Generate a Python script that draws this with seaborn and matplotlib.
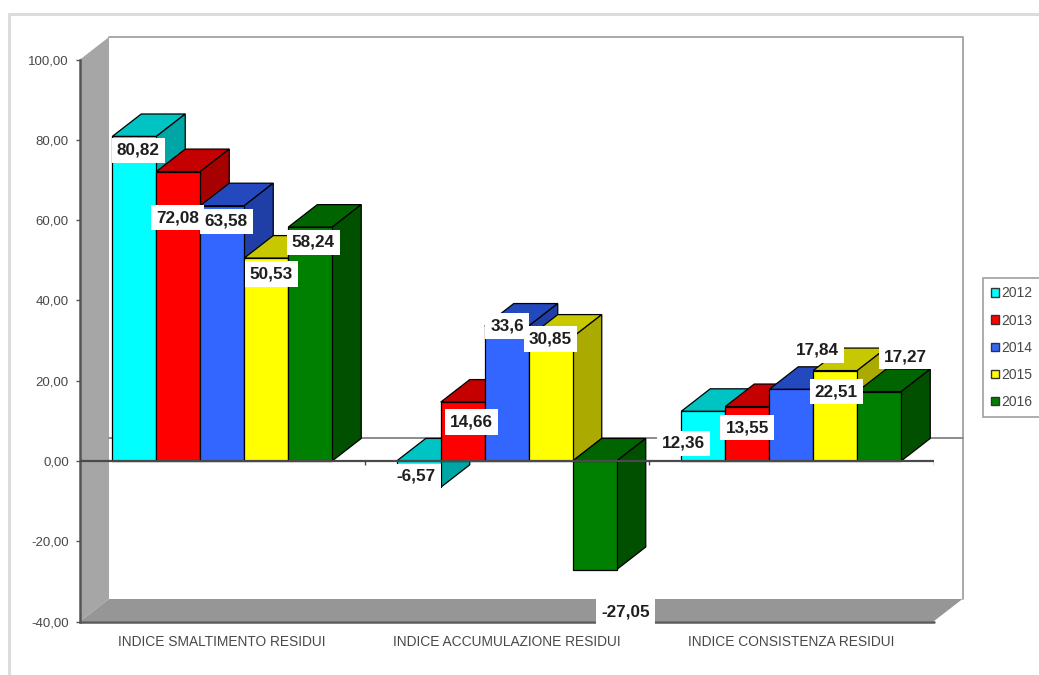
import matplotlib
matplotlib.use("Agg")
import matplotlib.pyplot as plt
from matplotlib.lines import Line2D
from matplotlib.patches import Patch, Polygon
import pandas as pd
import seaborn as sns

categories = ["INDICE SMALTIMENTO RESIDUI", "INDICE ACCUMULAZIONE RESIDUI", "INDICE CONSISTENZA RESIDUI"]
years = ["2012", "2013", "2014", "2015", "2016"]
values_2012 = [80.82, -6.57, 12.36]
values_2013 = [72.08, 14.66, 13.55]
values_2014 = [63.58, 33.6, 17.84]
values_2015 = [50.53, 30.85, 22.51]
values_2016 = [58.24, -27.05, 17.27]
series = [values_2012, values_2013, values_2014, values_2015, values_2016]
y_ticks = [-40, -20, 0, 20, 40, 60, 80, 100]

front_colors = ["#00FFFF", "#FF0000", "#3366FF", "#FFFF00", "#008000"]
top_colors = ["#00C4C4", "#C40000", "#2449BE", "#C8C800", "#006400"]
side_colors = ["#00A6A6", "#A60000", "#1F3FA6", "#AAAA00", "#005000"]

# label offsets from each bar's top centre, in pixels (year, then category)
label_offsets = [
    [(4, -14), (-2.5, 11), (-20, -32)],
    [(-1, -46), (8.5, -20), (0, -21)],
    [(4, -15.5), (0.5, 0), (26, 39)],
    [(5, -16), (-0.5, -2), (1, -21)],
    [(3, -15), (30.5, -42), (26, 35)],
]

W, H = 1039, 675
AX_L, AX_R, AX_T, AX_B = 80.0, 933.5, 59.5, 621.5
DEPTH_PX, RISE_PX = 29.0, 22.5

sns.set_theme(style="white")
plt.rcParams["font.family"] = ["Liberation Sans", "DejaVu Sans"]

df = pd.DataFrame({
    "cat": [c for _ in years for c in categories],
    "year": [y for y in years for _ in categories],
    "val": [v for s in series for v in s],
})

fig = plt.figure(figsize=(W / 100, H / 100), dpi=100, facecolor="white")
ax = fig.add_axes([AX_L / W, 1 - AX_B / H, (AX_R - AX_L) / W, (AX_B - AX_T) / H])
sns.barplot(data=df, x="cat", y="val", hue="year", order=categories, hue_order=years,
            palette=front_colors, saturation=1, width=44 * 5 / 284.5, gap=0, dodge=True,
            edgecolor="black", linewidth=0.9, legend=False, errorbar=None, ax=ax)
ax.set_xlim(-0.5, 2.5)
ax.set_ylim(-40, 100)
dx = DEPTH_PX * 3 / (AX_R - AX_L)
dy = RISE_PX * 140 / (AX_B - AX_T)
x0, x1, y0, y1 = -0.5, 2.5, -40, 100

# walls and floor
ax.add_patch(Polygon([(x0, y0), (x0 + dx, y0 + dy), (x0 + dx, y1 + dy), (x0, y1)],
                     fc="#A6A6A6", ec="none", zorder=0.5, clip_on=False))
ax.add_patch(Polygon([(x0, y0), (x0 + dx, y0 + dy), (x1 + dx, y0 + dy), (x1, y0)],
                     fc="#969696", ec="none", zorder=0.6, clip_on=False))
ax.plot([x0 + dx, x1 + dx, x1 + dx], [y1 + dy, y1 + dy, y0 + dy], color="#A8A8A8", lw=1.4,
        zorder=0.7, clip_on=False)
ax.plot([x0 + dx, x1 + dx], [dy, dy], color="#8C8C8C", lw=1.4, zorder=0.8, clip_on=False)

# 3D faces of each bar
for i, container in enumerate(ax.containers):
    for j, bar in enumerate(container):
        z = 3 + i * 0.1
        left, right = bar.get_x(), bar.get_x() + bar.get_width()
        v = series[i][j]
        hi, lo = max(v, 0), min(v, 0)
        bar.set_zorder(z + 0.02)
        ax.add_patch(Polygon([(left, hi), (left + dx, hi + dy), (right + dx, hi + dy), (right, hi)],
                             fc=top_colors[i], ec="black", lw=0.9, zorder=z, clip_on=False))
        ax.add_patch(Polygon([(right, hi), (right + dx, hi + dy), (right + dx, lo + dy), (right, lo)],
                             fc=side_colors[i], ec="black", lw=0.9, zorder=z + 0.01, clip_on=False))
        text = str(v).replace(".", ",")
        ax.annotate(text, xy=(left + bar.get_width() / 2, v), xycoords="data",
                    xytext=label_offsets[i][j], textcoords="offset pixels",
                    ha="center", va="center", fontsize=12.3, fontweight="bold", color="#1E1E1E",
                    zorder=30, bbox=dict(boxstyle="square,pad=0.3", fc="white", ec="none"))

# front zero line
ax.axhline(0, color="#4A4A4A", lw=1.6, zorder=20)
ax.vlines([0.5, 1.5, 2.5], -0.9, 0, color="#4A4A4A", lw=1, zorder=20)

# axes
for name in ("top", "right", "bottom"):
    ax.spines[name].set_visible(False)
ax.spines["left"].set_color("#555555")
ax.spines["left"].set_linewidth(1.8)
ax.spines["left"].set_zorder(5)
ax.plot([x0, x1], [y0, y0], color="#5A5A5A", lw=1.8, zorder=5, clip_on=False)
ax.set_yticks(y_ticks, [f"{t:.2f}".replace(".", ",") for t in y_ticks])
ax.tick_params(axis="y", left=True, length=3, width=1, color="#555555", pad=5,
               labelsize=9.5, labelcolor="#484848")
ax.tick_params(axis="x", bottom=False, length=0, pad=9.5, labelsize=9.9, labelcolor="#484848")
ax.set_xlabel("")
ax.set_ylabel("")

# outer frame of the original picture
fig.add_artist(Line2D([8.5 / W, 8.5 / W, 1], [0, 1 - 13.5 / H, 1 - 13.5 / H],
                      transform=fig.transFigure, color="#DCDCDC", lw=2.2))

# legend
handles = [Patch(fc=c, ec="#333333", lw=1) for c in front_colors]
leg = fig.legend(handles, years, loc="upper left", bbox_to_anchor=(983 / W, 1 - 278 / H),
                 bbox_transform=fig.transFigure, borderaxespad=0, fontsize=10, frameon=True,
                 fancybox=False, edgecolor="#A0A0A0", facecolor="white", framealpha=1,
                 handlelength=0.55, handleheight=0.55, handletextpad=0.2, labelspacing=0.95,
                 borderpad=0.6, labelcolor="#484848")
leg.get_frame().set_linewidth(1.2)

fig.savefig("out.png", dpi=100, facecolor="white")
